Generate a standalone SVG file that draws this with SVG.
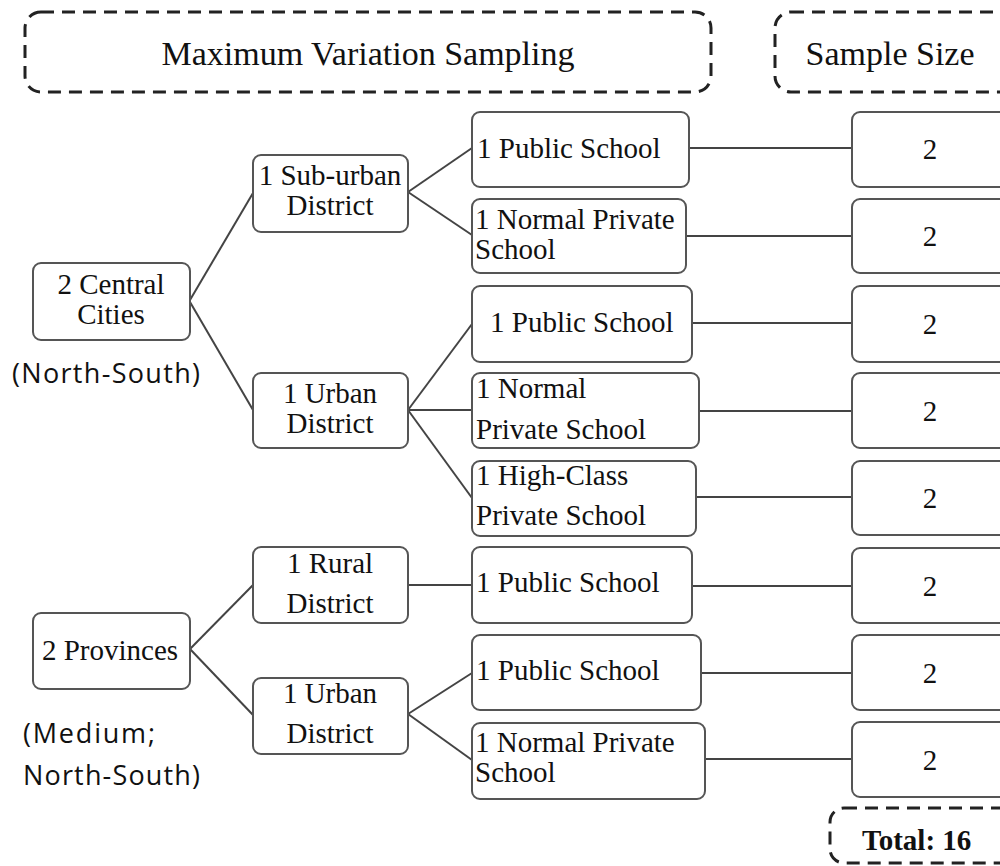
<svg xmlns="http://www.w3.org/2000/svg" width="1000" height="866" viewBox="0 0 1000 866">
<style>
.bg{fill:#ffffff}
.node{fill:#ffffff;stroke:#555555;stroke-width:2}
.dash{fill:none;stroke:#222222;stroke-width:3;stroke-dasharray:13 8}
.t{font-family:'Liberation Serif','DejaVu Serif','Times New Roman',serif;font-size:29px;fill:#111111}
.tc{text-anchor:middle}
.h{font-family:'Liberation Serif','DejaVu Serif','Times New Roman',serif;font-size:34px;fill:#111111;text-anchor:middle}
.b{font-weight:bold}
.s{font-family:'Open Sans','Noto Sans',sans-serif;font-size:27px;fill:#111111}
.c line{stroke:#444444;stroke-width:2}
</style>
<rect class="bg" x="0" y="0" width="1000" height="866"/>

<g id="header-mvs">
<rect class="dash" x="25" y="12" width="686" height="80" rx="16"/>
<text class="h" x="368" y="65">Maximum Variation Sampling</text>
</g>
<g id="header-size">
<rect class="dash" x="775" y="12" width="250" height="80" rx="16"/>
<text class="h" x="890" y="65">Sample Size</text>
</g>

<g class="c" id="connectors">
<line x1="190" y1="300" x2="253" y2="193"/>
<line x1="190" y1="302" x2="253" y2="410"/>
<line x1="190" y1="649" x2="253" y2="585"/>
<line x1="190" y1="649" x2="253" y2="715"/>
<line x1="408" y1="192" x2="472" y2="148"/>
<line x1="408" y1="192" x2="472" y2="235"/>
<line x1="408" y1="410" x2="472" y2="324"/>
<line x1="408" y1="410" x2="472" y2="410"/>
<line x1="408" y1="410" x2="472" y2="498"/>
<line x1="408" y1="585" x2="472" y2="585"/>
<line x1="408" y1="714" x2="472" y2="673"/>
<line x1="408" y1="714" x2="472" y2="760"/>
<line x1="689" y1="148" x2="852" y2="148"/>
<line x1="686" y1="236" x2="852" y2="236"/>
<line x1="692" y1="323" x2="852" y2="323"/>
<line x1="699" y1="411" x2="852" y2="411"/>
<line x1="696" y1="497" x2="852" y2="497"/>
<line x1="692" y1="586" x2="852" y2="586"/>
<line x1="701" y1="673" x2="852" y2="673"/>
<line x1="705" y1="759" x2="852" y2="759"/>
</g>

<g id="central-cities">
<rect class="node" x="33" y="263" width="157" height="77" rx="8"/>
<text class="t tc" x="111" y="294">2 Central</text>
<text class="t tc" x="111" y="324">Cities</text>
</g>
<g id="note-central">
<text class="s" x="12" y="383" textLength="188" lengthAdjust="spacing">(North-South)</text>
</g>
<g id="provinces">
<rect class="node" x="33" y="613" width="157" height="76" rx="8"/>
<text class="t tc" x="110" y="660">2 Provinces</text>
</g>
<g id="note-provinces">
<text class="s" x="23" y="743" textLength="132" lengthAdjust="spacing">(Medium;</text>
<text class="s" x="23" y="785" textLength="177" lengthAdjust="spacing">North-South)</text>
</g>

<g id="suburban-district">
<rect class="node" x="253" y="155" width="155" height="77" rx="8"/>
<text class="t tc" x="330" y="185">1 Sub-urban</text>
<text class="t tc" x="330" y="215">District</text>
</g>
<g id="urban-district-1">
<rect class="node" x="253" y="373" width="155" height="75" rx="8"/>
<text class="t tc" x="330" y="403">1 Urban</text>
<text class="t tc" x="330" y="433">District</text>
</g>
<g id="rural-district">
<rect class="node" x="253" y="547" width="155" height="76" rx="8"/>
<text class="t tc" x="330" y="573">1 Rural</text>
<text class="t tc" x="330" y="613">District</text>
</g>
<g id="urban-district-2">
<rect class="node" x="253" y="678" width="155" height="76" rx="8"/>
<text class="t tc" x="330" y="703">1 Urban</text>
<text class="t tc" x="330" y="743">District</text>
</g>

<g id="school-a">
<rect class="node" x="472" y="112" width="217" height="75" rx="8"/>
<text class="t" x="477" y="158">1 Public School</text>
</g>
<g id="school-b">
<rect class="node" x="472" y="199" width="214" height="74" rx="8"/>
<text class="t" x="475" y="229">1 Normal Private</text>
<text class="t" x="475" y="259">School</text>
</g>
<g id="school-c">
<rect class="node" x="472" y="286" width="220" height="76" rx="8"/>
<text class="t" x="490" y="332">1 Public School</text>
</g>
<g id="school-d">
<rect class="node" x="472" y="373" width="227" height="75" rx="8"/>
<text class="t" x="476" y="398">1 Normal</text>
<text class="t" x="476" y="439">Private School</text>
</g>
<g id="school-e">
<rect class="node" x="472" y="461" width="224" height="75" rx="8"/>
<text class="t" x="476" y="485">1 High-Class</text>
<text class="t" x="476" y="525">Private School</text>
</g>
<g id="school-f">
<rect class="node" x="472" y="547" width="220" height="76" rx="8"/>
<text class="t" x="476" y="592">1 Public School</text>
</g>
<g id="school-g">
<rect class="node" x="472" y="635" width="229" height="75" rx="8"/>
<text class="t" x="476" y="680">1 Public School</text>
</g>
<g id="school-h">
<rect class="node" x="472" y="723" width="233" height="76" rx="8"/>
<text class="t" x="475" y="752">1 Normal Private</text>
<text class="t" x="475" y="782">School</text>
</g>

<g id="size-1"><rect class="node" x="852" y="112" width="170" height="75" rx="8"/><text class="t tc" x="930" y="159">2</text></g>
<g id="size-2"><rect class="node" x="852" y="199" width="170" height="74" rx="8"/><text class="t tc" x="930" y="246">2</text></g>
<g id="size-3"><rect class="node" x="852" y="286" width="170" height="76" rx="8"/><text class="t tc" x="930" y="334">2</text></g>
<g id="size-4"><rect class="node" x="852" y="373" width="170" height="75" rx="8"/><text class="t tc" x="930" y="421">2</text></g>
<g id="size-5"><rect class="node" x="852" y="461" width="170" height="74" rx="8"/><text class="t tc" x="930" y="508">2</text></g>
<g id="size-6"><rect class="node" x="852" y="548" width="170" height="75" rx="8"/><text class="t tc" x="930" y="596">2</text></g>
<g id="size-7"><rect class="node" x="852" y="635" width="170" height="75" rx="8"/><text class="t tc" x="930" y="683">2</text></g>
<g id="size-8"><rect class="node" x="852" y="722" width="170" height="75" rx="8"/><text class="t tc" x="930" y="770">2</text></g>

<g id="total">
<rect class="dash" x="830" y="808" width="200" height="55" rx="14"/>
<text class="t b" x="862" y="850">Total: 16</text>
</g>
</svg>
